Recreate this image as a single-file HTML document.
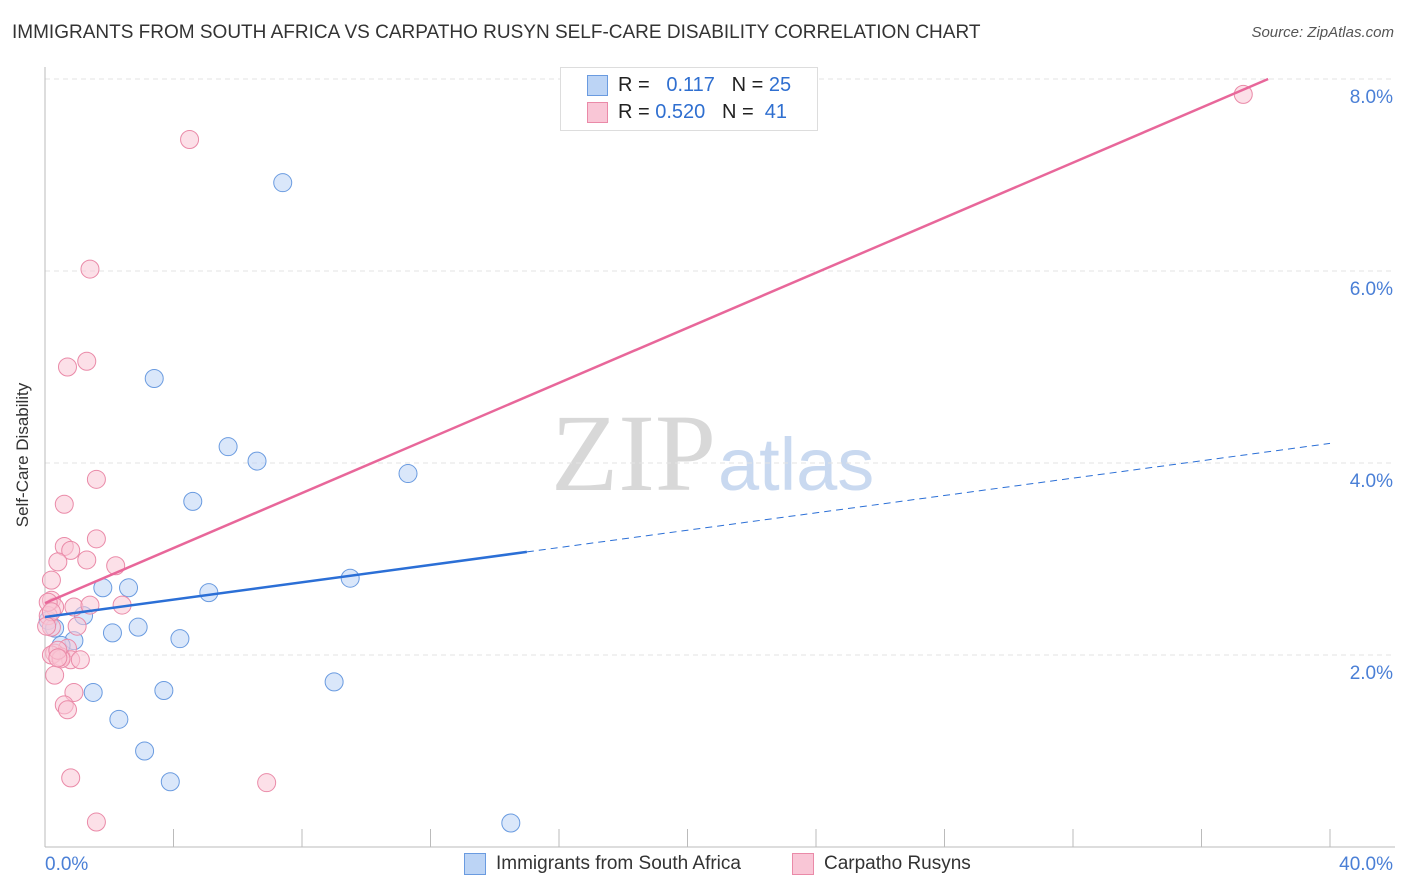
<!DOCTYPE html>
<html><head><meta charset="utf-8"><style>
body{margin:0;background:#fff;font-family:"Liberation Sans",sans-serif;}
#wrap{position:relative;width:1406px;height:892px;overflow:hidden}
.t{position:absolute;white-space:nowrap}
</style></head><body><div id="wrap">
<div class="t" style="left:12px;top:22px;font-size:19px;color:#333">IMMIGRANTS FROM SOUTH AFRICA VS CARPATHO RUSYN SELF-CARE DISABILITY CORRELATION CHART</div>
<div class="t" style="right:12px;top:24px;font-size:15px;color:#555;font-style:italic">Source: ZipAtlas.com</div>
<svg id="svg" width="1406" height="892" style="position:absolute;left:0;top:0">
<text x="716" y="490" text-anchor="end" font-family="Liberation Serif,serif" font-size="110" fill="#d8d8d8">ZIP</text>
<text x="718" y="490" font-family="Liberation Sans,sans-serif" font-size="74" fill="#c9d9f0">atlas</text>
<text x="28" y="455" transform="rotate(-90 28 455)" text-anchor="middle" font-size="17" fill="#333">Self-Care Disability</text>
</svg>
<div class="t" style="left:560px;top:67px;width:256px;height:62px;border:1px solid #ddd;background:#fff"></div>
<div class="t" style="left:587px;top:75px;width:19px;height:19px;background:#bcd4f5;border:1px solid #6a9be0"></div>
<div class="t" style="left:587px;top:102px;width:19px;height:19px;background:#f9c6d6;border:1px solid #ea8aa8"></div>
<div class="t" style="left:618px;top:74px;font-size:20px;color:#222">R = &nbsp;&nbsp;<span style="color:#2f6fd0">0.117</span>&nbsp;&nbsp;&nbsp;N = <span style="color:#2f6fd0">25</span></div>
<div class="t" style="left:618px;top:101px;font-size:20px;color:#222">R = <span style="color:#2f6fd0">0.520</span>&nbsp;&nbsp;&nbsp;N = &nbsp;<span style="color:#2f6fd0">41</span></div>
<div class="t" style="left:464px;top:853px;width:20px;height:20px;background:#bcd4f5;border:1px solid #6a9be0"></div>
<div class="t" style="left:496px;top:853px;font-size:19px;color:#333">Immigrants from South Africa</div>
<div class="t" style="left:792px;top:853px;width:20px;height:20px;background:#f9c6d6;border:1px solid #ea8aa8"></div>
<div class="t" style="left:824px;top:853px;font-size:19px;color:#333">Carpatho Rusyns</div>
</div>
<script>
const yTicks=[2,4,6,8];
const xTickLabels=["0.0%","40.0%"];
const blueX=[7.4,3.4,5.7,6.6,11.3,4.6,2.6,1.8,5.1,9.5,2.9,2.1,4.2,1.2,0.9,0.5,1.5,3.7,9.0,2.3,3.1,3.9,14.5,0.1,0.3];
const blueY=[6.92,4.88,4.17,4.02,3.89,3.60,2.70,2.70,2.65,2.80,2.29,2.23,2.17,2.41,2.15,2.10,1.61,1.63,1.72,1.33,1.00,0.68,0.25,2.36,2.28];
const pinkX=[4.5,1.4,1.3,0.7,1.6,0.6,1.6,0.6,0.8,0.4,1.3,2.2,0.2,0.2,0.3,0.9,1.4,2.4,0.1,1.0,0.2,0.7,0.3,0.5,0.8,0.3,0.9,0.6,0.7,0.8,1.6,6.9,37.3,0.2,0.5,0.1,0.2,0.05,0.4,0.4,1.1];
const pinkY=[7.37,6.02,5.06,5.00,3.83,3.57,3.21,3.13,3.09,2.97,2.99,2.93,2.78,2.57,2.50,2.50,2.52,2.52,2.41,2.30,2.29,2.07,2.02,1.98,1.95,1.79,1.61,1.48,1.43,0.72,0.26,0.67,7.84,2.00,1.96,2.55,2.45,2.30,2.05,1.97,1.95];
const blueLine=[2.396,0.0452]; const pinkLine=[2.54,0.1434];
const svg=document.getElementById('svg');const NS='http://www.w3.org/2000/svg';
const X=v=>45+v*32.125, Y=v=>847-v*96;
function mk(t,a){const e=document.createElementNS(NS,t);for(const k in a)e.setAttribute(k,a[k]);svg.appendChild(e);return e;}
yTicks.forEach(v=>{
 const g=mk('line',{x1:45,x2:1395,y1:Y(v),y2:Y(v),stroke:'#e3e3e3','stroke-dasharray':'5,4'});
 
 
 const t=mk('text',{x:1393,y:Y(v)+24,'text-anchor':'end','font-size':19,fill:'#4a7fd6'});t.textContent=v.toFixed(1)+'%';
 
 
});
const ax=mk('line',{x1:45,x2:45,y1:67,y2:847,stroke:'#bbb'});


const bx=mk('line',{x1:45,x2:1395,y1:847,y2:847,stroke:'#bbb'});


for(let i=0;i<=10;i++){const tk=mk('line',{x1:X(i*4),x2:X(i*4),y1:829,y2:847,stroke:'#bbb'});
 
 }
xTickLabels.forEach((s,i)=>{const t=mk('text',{x:i?1393:45,y:870,'text-anchor':i?'end':'start','font-size':19,fill:'#4a7fd6'});t.textContent=s;
 
 });
function pts(xs,ys,f,s,n){xs.forEach((x,i)=>{const c=mk('circle',{cx:X(x),cy:Y(ys[i]),r:9,fill:f,'fill-opacity':0.55,stroke:s,'stroke-width':1});
 
 });}
pts(blueX,blueY,'#bcd4f5','#6a9be0','point-south-africa');
pts(pinkX,pinkY,'#f9c6d6','#ea8aa8','point-carpatho-rusyn');
const bl=mk('line',{x1:X(0),y1:Y(blueLine[0]),x2:X(15),y2:Y(blueLine[0]+15*blueLine[1]),stroke:'#2b6fd6','stroke-width':2.5});


const bd=mk('line',{x1:X(15),y1:Y(blueLine[0]+15*blueLine[1]),x2:X(40),y2:Y(blueLine[0]+40*blueLine[1]),stroke:'#2b6fd6','stroke-width':1,'stroke-dasharray':'7,5'});


const xe=(8-pinkLine[0])/pinkLine[1];
const pl=mk('line',{x1:X(0),y1:Y(pinkLine[0]),x2:X(xe),y2:Y(8),stroke:'#e8679a','stroke-width':2.5});


</script>
</body></html>
